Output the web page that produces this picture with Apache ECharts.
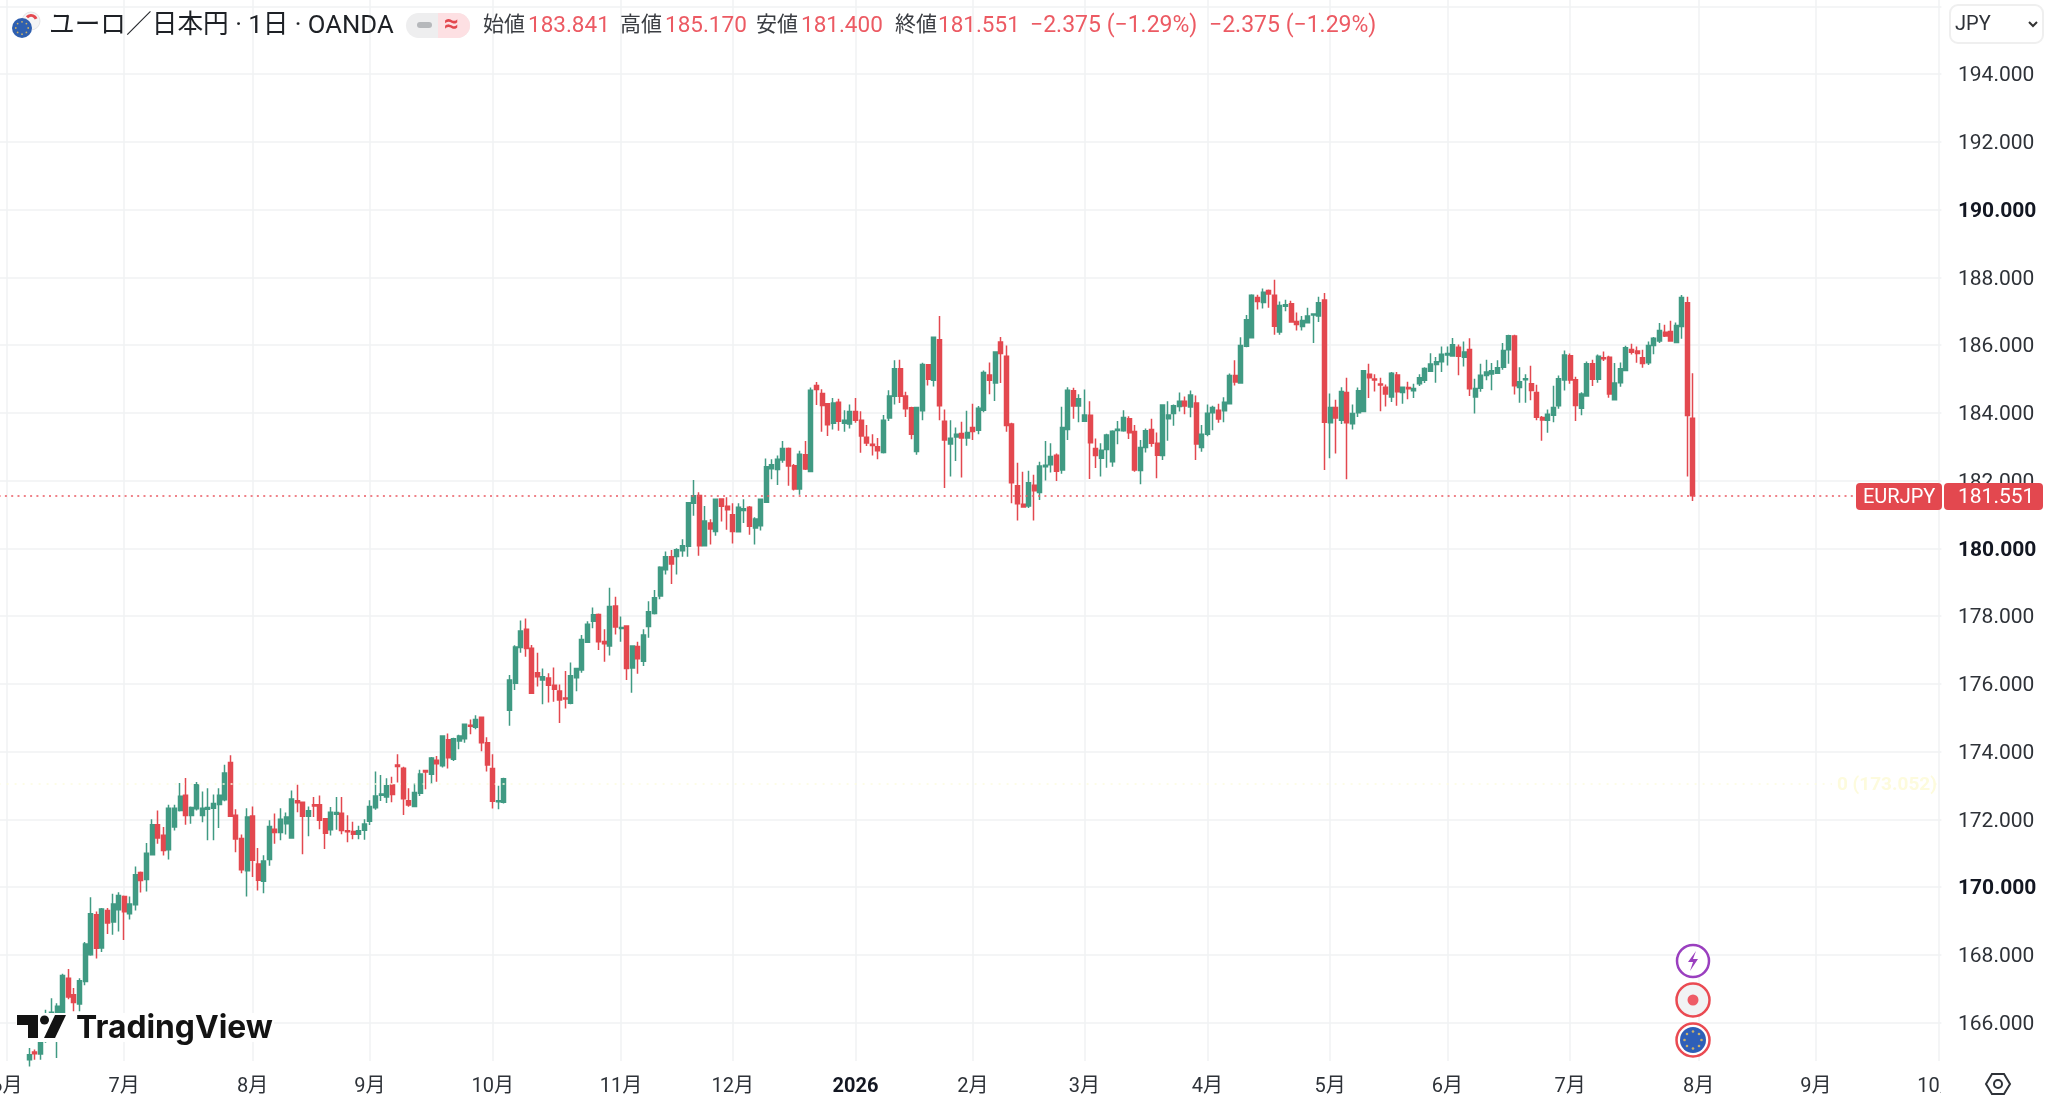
<!DOCTYPE html>
<html lang="ja">
<head>
<meta charset="utf-8">
<title>EURJPY</title>
<style>html,body{margin:0;padding:0;background:#fff}#c{width:2048px;height:1106px}</style>
<script src="https://cdn.jsdelivr.net/npm/echarts@6/dist/echarts.min.js"></script>
</head>
<body>
<div id="c"></div>
<script>
const opens = [
164.9,165.13,165.07,165.6,166.0,165.8,166.3,167.31,166.82,166.55,
167.21,168.0,169.18,168.2,169.31,168.97,169.33,169.72,169.21,169.48,
170.43,170.22,170.95,171.84,171.53,171.1,171.77,172.26,172.71,172.11,
172.31,172.11,172.3,172.33,172.44,172.58,173.68,172.12,171.43,170.48,
172.1,170.68,170.17,170.81,171.71,171.61,171.87,171.45,172.55,172.5,
172.09,172.43,172.43,172.02,171.69,172.15,172.18,171.66,171.64,171.56,
171.68,171.94,172.34,172.71,172.66,173.01,173.6,173.51,172.55,172.38,
172.77,173.44,173.33,173.74,173.58,174.35,173.77,174.31,174.38,174.78,
174.72,175.01,174.26,173.5,172.52,172.5,175.22,176.02,177.07,177.61,
177.05,176.33,176.11,176.17,175.96,175.79,175.58,175.43,176.18,176.41,
177.23,177.85,178.05,177.25,177.12,178.3,177.63,177.71,176.47,177.1,
176.67,177.69,178.08,178.59,179.37,179.75,179.76,179.93,180.06,181.33,
181.56,180.08,180.75,180.5,181.46,181.24,180.99,180.49,181.12,181.21,
180.6,180.67,181.36,182.35,182.33,182.61,182.95,182.44,181.75,182.76,
182.27,184.81,184.57,184.27,183.69,184.31,183.69,183.67,184.04,183.78,
183.28,183.07,183.0,182.83,183.85,184.49,185.3,184.5,184.15,182.86,
184.06,185.42,184.96,186.16,183.75,183.08,183.29,183.39,183.26,183.57,
183.49,184.08,185.12,184.88,186.09,185.67,183.67,181.85,181.3,181.25,
181.86,181.65,182.41,182.47,182.75,182.31,183.51,184.65,184.2,183.75,
183.93,182.95,182.66,182.92,182.56,183.48,183.47,183.83,183.45,182.3,
182.98,183.51,183.1,182.74,183.83,183.98,184.19,184.34,184.17,184.29,
182.98,183.37,184.0,184.08,184.06,184.27,185.1,184.88,185.97,186.22,
187.41,187.26,187.61,187.47,186.39,187.15,187.22,186.7,186.55,186.66,
186.89,186.86,187.33,183.71,184.16,183.78,184.6,183.68,184.0,184.04,
185.14,185.0,184.85,184.76,184.47,185.12,184.6,184.75,184.65,184.86,
184.96,185.23,185.43,185.51,185.71,185.68,185.94,185.64,185.87,184.47,
184.73,185.1,185.15,185.17,185.35,185.86,186.27,184.75,184.98,184.86,
184.6,183.86,183.78,183.93,184.21,184.97,185.69,184.98,184.14,184.5,
185.45,184.99,185.63,185.64,184.39,184.89,185.25,185.87,185.83,185.63,
185.48,185.99,186.12,186.38,186.4,186.08,186.55,187.25,183.841];
const highs = [
165.25,165.2,165.5,166.38,166.72,166.57,167.44,167.58,167.02,167.31,
168.38,169.7,169.28,169.38,169.38,169.8,169.85,169.75,169.72,170.61,
170.46,171.3,172.0,172.26,171.77,172.43,172.43,173.07,173.22,172.38,
173.1,172.82,172.92,172.73,172.92,173.61,173.89,172.3,171.55,172.33,
172.38,171.15,170.94,171.97,172.17,172.33,172.2,172.85,173.02,172.5,
172.38,172.66,172.7,172.04,172.36,172.66,172.66,172.12,171.93,171.81,
172.0,172.56,173.41,173.31,173.21,173.26,173.92,173.55,172.92,173.06,
173.46,173.46,173.84,173.87,174.48,174.53,174.41,174.5,174.81,174.95,
175.07,175.01,174.42,173.92,172.99,173.23,176.26,177.14,177.87,177.93,
177.15,176.92,176.45,176.31,176.48,175.98,176.38,176.63,176.45,177.44,
177.85,178.25,178.08,177.61,178.84,178.57,177.99,177.73,177.14,177.24,
177.61,178.44,178.77,179.47,179.91,179.95,180.0,180.27,181.35,182.02,
181.66,181.25,180.86,181.45,181.48,181.51,181.33,181.33,181.45,181.25,
180.92,181.45,182.65,182.63,182.74,183.17,182.98,182.49,182.88,183.17,
184.75,184.91,184.7,184.29,184.44,184.42,184.08,184.25,184.44,184.05,
183.64,183.37,183.26,183.94,184.67,185.55,185.57,184.62,184.18,184.16,
185.48,185.43,186.24,186.86,184.1,183.78,183.57,183.74,184.06,184.27,
184.2,185.25,185.49,185.8,186.24,185.99,183.71,182.53,182.26,182.29,
182.17,182.56,183.17,183.1,182.8,184.18,184.76,184.74,184.55,184.69,
184.34,183.24,183.1,183.38,183.49,183.76,184.08,183.9,183.64,183.2,
183.54,183.83,183.42,184.25,184.34,184.25,184.6,184.48,184.66,184.51,
183.64,184.25,184.21,184.27,184.46,185.16,185.55,186.23,186.89,187.5,
187.49,187.67,187.64,187.93,187.29,187.34,187.31,186.96,186.86,187.1,
186.92,187.43,187.54,184.57,184.39,184.76,185.04,184.25,184.75,185.25,
185.45,185.14,185.04,184.84,185.21,185.21,184.78,184.92,184.86,185.14,
185.35,185.76,185.65,185.96,185.96,186.21,186.02,186.11,186.2,185.01,
185.45,185.57,185.47,185.55,186.06,186.31,186.31,185.35,185.14,185.39,
184.83,183.91,184.1,184.8,185.1,185.84,185.75,185.07,184.61,185.52,
185.57,185.72,185.81,185.69,185.47,185.49,185.98,186.04,185.96,185.86,
186.11,186.24,186.65,186.6,186.72,186.67,187.48,187.43,185.17];
const lows = [
164.7,164.9,164.9,165.4,165.5,164.95,165.9,166.69,166.33,166.33,
167.1,167.97,167.89,168.08,168.61,168.59,168.69,168.44,169.04,169.31,
169.84,169.87,170.95,171.28,170.93,170.81,171.67,172.23,171.84,171.87,
172.26,171.91,171.38,171.38,171.74,172.53,172.07,171.03,170.41,169.72,
170.3,169.9,169.82,170.63,171.28,171.38,171.55,171.45,172.21,170.97,
171.5,172.07,171.71,171.12,171.52,171.69,171.56,171.32,171.41,171.41,
171.4,171.83,172.28,172.54,172.48,172.5,173.09,172.13,172.37,172.38,
172.69,172.89,173.04,173.11,173.53,173.5,173.72,174.07,174.26,174.51,
174.66,174.01,173.41,172.32,172.3,172.47,174.76,175.82,176.92,176.8,
175.72,175.92,175.4,175.45,175.47,174.84,175.27,175.4,175.78,176.33,
177.22,177.64,177.0,176.65,176.84,177.46,177.24,176.11,175.74,176.3,
176.53,177.36,178.05,178.5,179.23,178.95,179.23,179.75,179.75,180.96,
179.78,180.06,180.11,180.37,180.79,180.55,180.14,180.47,180.75,180.4,
180.11,180.53,181.36,182.04,181.87,182.53,181.85,181.71,181.58,182.31,
182.26,184.23,183.44,183.32,183.51,183.47,183.44,183.54,183.71,182.82,
183.02,182.74,182.63,182.8,183.76,184.25,184.29,183.88,183.22,182.76,
183.78,184.81,184.78,183.78,181.78,182.12,182.58,182.09,183.03,183.2,
183.37,184.02,184.55,184.35,184.88,183.44,181.33,180.82,181.2,181.19,
180.82,181.43,182.0,182.24,181.99,182.2,183.2,183.83,183.72,183.73,
182.05,182.37,182.12,182.38,182.41,183.07,183.44,183.23,182.26,181.89,
182.83,183.0,182.07,182.61,183.18,183.62,184.04,183.96,183.87,182.61,
182.85,183.31,183.49,183.71,183.72,184.25,184.81,184.86,185.94,186.21,
187.05,187.08,187.1,186.31,186.31,187.0,186.66,186.43,186.43,186.65,
186.06,186.68,182.31,182.66,182.8,183.67,182.04,183.51,183.88,184.02,
184.44,184.63,184.05,184.19,184.32,184.21,184.27,184.4,184.44,184.79,
184.88,185.22,184.89,185.21,185.4,185.67,185.11,185.37,184.5,183.98,
184.62,184.96,184.67,185.16,185.27,185.45,184.54,184.3,184.3,184.37,
183.78,183.18,183.41,183.72,184.12,184.66,184.86,183.76,183.93,184.49,
184.79,184.89,185.53,184.45,184.38,184.77,185.23,185.72,185.48,185.33,
185.41,185.73,186.06,186.24,186.11,186.06,186.19,182.12,181.4];
const closes = [
165.05,165.08,165.42,166.1,166.3,166.48,167.39,166.75,166.59,167.23,
168.32,169.21,168.19,169.35,168.94,169.5,169.75,169.27,169.5,170.36,
170.19,171.0,171.84,171.45,171.08,172.33,172.33,172.68,172.11,172.35,
173.02,172.33,172.35,172.47,172.71,173.37,172.09,171.42,170.51,172.07,
170.79,170.2,170.77,171.79,171.61,172.0,172.07,172.6,172.49,172.09,
172.25,172.39,171.97,171.59,172.21,172.2,171.67,171.63,171.56,171.66,
171.86,172.38,172.69,172.75,172.99,172.73,173.56,172.61,172.42,172.79,
173.34,173.4,173.81,173.64,174.46,173.82,174.38,174.46,174.81,174.75,
174.95,174.26,173.6,172.53,172.55,173.2,176.11,177.09,177.56,177.04,
175.72,176.21,176.21,175.96,175.84,175.52,175.55,176.24,176.45,177.31,
177.76,178.04,177.24,177.18,178.28,177.68,177.66,176.45,177.12,176.74,
177.44,178.13,178.54,179.44,179.75,179.54,179.96,180.08,181.35,181.55,
180.08,180.81,180.57,181.45,181.24,181.14,180.5,181.21,181.17,180.65,
180.87,181.45,182.41,182.47,182.63,182.95,182.43,181.75,182.78,182.34,
184.67,184.69,184.22,183.65,184.29,183.75,183.78,184.04,183.78,183.32,
183.11,183.04,182.88,183.78,184.5,185.3,184.49,184.12,183.37,184.16,
185.43,184.99,186.23,184.21,183.2,183.25,183.37,183.26,183.42,183.45,
184.14,185.19,184.96,185.8,185.75,183.63,181.94,181.32,181.22,181.94,
181.7,182.43,182.45,182.71,182.28,183.57,184.67,184.2,184.42,183.94,
183.12,182.74,182.9,183.35,183.46,183.52,183.86,183.41,182.31,182.98,
183.47,183.1,182.75,184.23,183.94,184.21,184.34,184.2,184.53,183.08,
183.37,183.99,184.16,183.82,184.31,185.1,184.91,185.99,186.75,187.47,
187.29,187.56,187.51,186.56,187.17,187.19,186.68,186.61,186.73,186.86,
186.92,187.25,183.72,184.16,183.85,184.63,183.71,183.98,184.65,185.24,
185.04,184.97,184.82,184.56,185.17,184.62,184.76,184.71,184.72,185.04,
185.31,185.44,185.51,185.73,185.75,186.01,185.67,185.8,184.71,184.72,
185.11,185.21,185.24,185.33,185.84,186.28,184.8,184.92,185.01,184.66,
183.87,183.79,183.96,184.16,185.01,185.71,184.97,184.22,184.56,185.45,
184.99,185.67,185.6,184.56,184.88,185.3,185.92,185.79,185.75,185.46,
185.99,186.2,186.43,186.27,186.12,186.58,187.41,183.926,181.551];

// Time axis: slot counts in bars, month labels at their first bar
const leadingSlots = 5;
const totalSlots = 348;
const monthBars = [-4,17,40,61,83,106,126,148,169,189,211,233,254,276,299,320,342];
const monthLabels = ['6月','7月','8月','9月','10月','11月','12月','2026','2月','3月','4月','5月','6月','7月','8月','9月','10月'];
const priceGridLevels = [166,168,170,172,174,176,178,180,182,184,186,188,190,192,194,196];
const priceLabelLevels = [166,168,170,172,174,176,178,180,182,184,186,188,190,192,194];
const lastPrice = 181.551;
const hiddenLevel = 173.052;
const priceMin = 164.864, priceMax = 196.19;

const categories = new Array(totalSlots).fill('');
monthBars.forEach((b, i) => { categories[b + leadingSlots] = monthLabels[i]; });
const candles = new Array(totalSlots).fill('-');
opens.forEach((o, i) => { candles[i + leadingSlots] = [o, closes[i], lows[i], highs[i]]; });

const RED = '#e3484f', GREEN = '#409a83', FONT = 'Roboto, "Noto Sans CJK JP", sans-serif';
const TXT = '#2e3238';
const txt = (x, y, s, size, fill, extra) => ({type:'text', x, y, z:30, style:Object.assign({text:s, font:`${size}px ${FONT}`, fill, textVerticalAlign:'middle'}, extra||{})});
const rect = (x, y, w, h, fill, r, stroke) => ({type:'rect', z:28, shape:{x, y, width:w, height:h, r:r||0}, style:{fill, stroke:stroke||null, lineWidth:stroke?2:0}});
const circle = (cx, cy, r, fill, stroke, lw) => ({type:'circle', z:29, shape:{cx, cy, r}, style:{fill, stroke:stroke||null, lineWidth:lw||0}});
const poly = (pts, fill, stroke, lw, z) => ({type:'polygon', z:z||30, shape:{points:pts}, style:{fill, stroke:stroke||null, lineWidth:lw||0}});
const euStars = (cx, cy, r, sr) => Array.from({length:8}, (_, i) => circle(cx + r*Math.cos(i*Math.PI/4), cy + r*Math.sin(i*Math.PI/4), sr, '#c9b06a'));

const graphics = [
  // legend row
  circle(31, 21, 9, '#f4f4f5', '#e4e4e6', 1),
  {type:'arc', z:30, shape:{cx:31, cy:21, r:5.5, startAngle:-2.4, endAngle:-0.4}, style:{stroke:'#e3484f', lineWidth:3, fill:null}},
  circle(22, 28, 10, '#2e5fb0'), ...euStars(22, 28, 6.2, 0.9),
  txt(49, 27, 'ユーロ／日本円 · 1日 · OANDA', 25.7, '#1e2126'),
  {type:'rect', z:28, shape:{x:406, y:13, width:64, height:25, r:12.5}, style:{fill:'#eeeeef'}},
  {type:'rect', z:29, shape:{x:438, y:13, width:32, height:25, r:[0,12.5,12.5,0]}, style:{fill:'#fde0e3'}},
  rect(417, 22, 15, 6, '#b6b8bb', 3),
  txt(444, 25, '≈', 26, RED, {font:`bold 26px ${FONT}`}),
  txt(483, 26, '始値', 21, '#3a3d42'), txt(528, 26, '183.841', 22.5, '#ec5a63'),
  txt(620, 26, '高値', 21, '#3a3d42'), txt(665, 26, '185.170', 22.5, '#ec5a63'),
  txt(756, 26, '安値', 21, '#3a3d42'), txt(801, 26, '181.400', 22.5, '#ec5a63'),
  txt(895, 26, '終値', 21, '#3a3d42'), txt(938, 26, '181.551', 22.5, '#ec5a63'),
  txt(1030, 26, '−2.375 (−1.29%)', 23, '#ec5a63'),
  txt(1209, 26, '−2.375 (−1.29%)', 23, '#ec5a63'),
  // currency button
  rect(1950, 5, 93, 38, '#ffffff', 8, '#efefef'),
  txt(1955, 25, 'JPY', 20, TXT),
  {type:'polyline', z:30, shape:{points:[[2029,22],[2033,26],[2037,22]]}, style:{stroke:'#333', lineWidth:2, fill:null}},
  // last price tag
  rect(1856, 483, 86, 27, RED, 4),
  rect(1944, 483, 99, 27, RED, 4),
  txt(1863, 498, 'EURJPY', 20, '#ffffff'),
  txt(1958, 498, '181.551', 21, '#ffffff'),
  // hidden level label
  rect(1832, 772, 103, 26, '#ffffff'),
  txt(1837, 785, '0 (173.052)', 19, '#fdfbdd', {font:`bold 19px ${FONT}`}),
  // logo
  rect(16, 1013, 258, 29, '#ffffff'),
  poly([[17,1015],[38,1015],[38,1038],[28,1038],[28,1025],[17,1025]], '#131313'),
  circle(44.5, 1020, 4.5, '#131313'),
  poly([[55,1015],[66,1015],[55,1038],[44,1038]], '#131313'),
  txt(76, 1028, 'TradingView', 32, '#131313', {font:`bold 31.8px Inter, ${FONT}`}),
  // event badges
  circle(1693, 961, 16, '#ffffff', '#9a3fbf', 2.5),
  poly([[1696,951],[1688,962],[1693,962],[1690,971],[1698,959],[1693,959]], '#9a3fbf'),
  circle(1693, 1000, 16.5, '#f1f3f4', '#ea4a52', 2.5),
  circle(1693, 1000, 5.5, '#ee5c66'),
  circle(1693, 1040, 16.5, '#ffffff', '#ea4a52', 2.5),
  circle(1693, 1040, 13, '#2e5fb8'), ...euStars(1693, 1040, 8.5, 1.3),
  // axis corner
  rect(1941, 1063, 107, 43, '#ffffff'),
  poly([[1986,1084],[1992,1074],[2004,1074],[2010,1084],[2004,1094],[1992,1094]], '#ffffff', '#2e3238', 2),
  {type:'circle', z:31, shape:{cx:1998, cy:1084, r:4}, style:{fill:'#ffffff', stroke:'#2e3238', lineWidth:2}}
];

const chart = echarts.init(document.getElementById('c'), null, {renderer:'canvas', width:2048, height:1106});
chart.setOption({
  animation:false,
  backgroundColor:'#ffffff',
  grid:{left:-1.4, top:0, width:1942.8, height:1061, containLabel:false, outerBoundsMode:'none'},
  xAxis:{
    type:'category', data:categories, boundaryGap:true,
    axisLine:{show:false}, axisTick:{show:false},
    axisLabel:{
      interval:(i, v) => v !== '', margin:15.5, hideOverlap:false,
      fontFamily:FONT, fontSize:20, color:TXT,
      formatter:v => v === '2026' ? '{b|2026}' : v,
      rich:{b:{fontFamily:FONT, fontSize:20, fontWeight:'bold', color:'#131722'}}
    },
    splitLine:{show:true, alignWithLabel:true, interval:(i, v) => v !== '', lineStyle:{color:'#f1f2f3', width:1.5}}
  },
  yAxis:{
    type:'value', position:'right', min:priceMin, max:priceMax, scale:true,
    axisLine:{show:false}, axisTick:{show:false, customValues:priceGridLevels},
    axisLabel:{
      customValues:priceLabelLevels,
      margin:16.6, padding:[4,0,0,0], fontFamily:FONT, fontSize:21, color:TXT, align:'left',
      formatter:v => {
        const s = v.toFixed(3);
        return Math.round(v) % 10 === 0 ? `{b|${s}}` : s;
      },
      rich:{b:{fontFamily:FONT, fontSize:21, fontWeight:'bold', color:'#131722'}}
    },
    splitLine:{show:true, lineStyle:{color:'#f1f2f3', width:1.5}}
  },
  series:[{
    type:'candlestick', data:candles, barWidth:4.5, clip:true,
    itemStyle:{color:GREEN, color0:RED, borderColor:GREEN, borderColor0:RED, borderWidth:1.5},
    markLine:{
      silent:true, symbol:'none', animation:false, label:{show:false},
      data:[
        {yAxis:lastPrice, lineStyle:{color:'#ea5a63', type:[2,4.3], width:1.5}},
        {yAxis:hiddenLevel, lineStyle:{color:'#fcfbe0', type:[2,6], width:1.5}}
      ]
    }
  }],
  graphic:{elements:graphics}
});
</script>
</body>
</html>
